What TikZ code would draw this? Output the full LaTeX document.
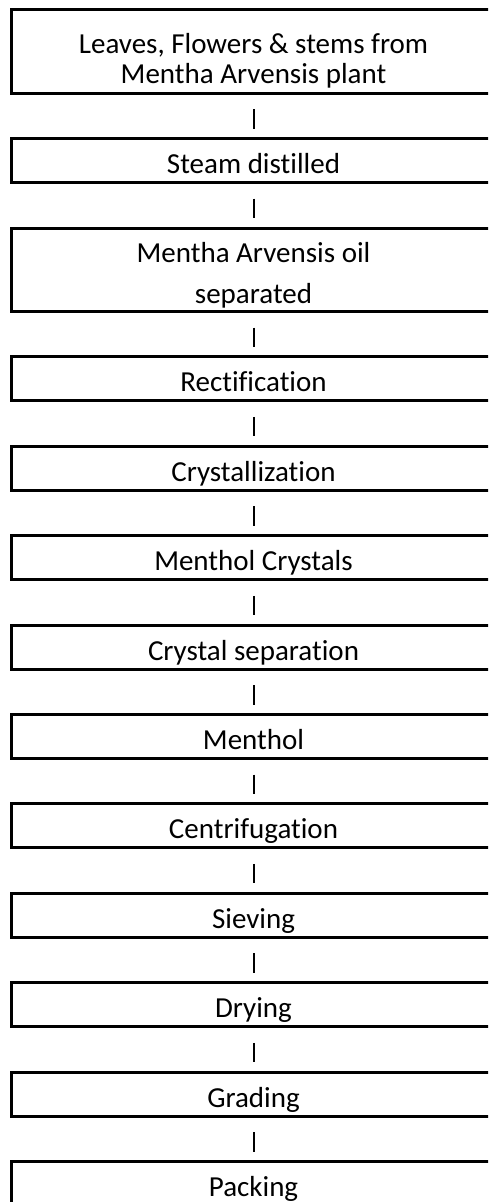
\documentclass[tikz,border=0pt]{standalone}
\usepackage{fontspec}
\setmainfont{Carlito}[Ligatures=CommonOff]
\usetikzlibrary{positioning}

\begin{document}
\begin{tikzpicture}[
    stage/.style={draw, line width=3pt, minimum width=484pt, minimum height=44pt,
      inner sep=0pt, outer sep=0pt, align=center, font=\fontsize{29pt}{30pt}\selectfont},
    one/.style={stage, text height=26pt, text depth=0pt},
    two/.style={stage, minimum height=83.5pt},
    link/.style={line width=2pt, shorten <=16pt, shorten >=10pt},
    node distance=45.4pt]
    \clip (0,0) rectangle (488pt,-1202pt);

    \node[two] (plant) at (253.5pt,-51.5pt) {\rule{0pt}{38.5pt}Leaves, Flowers \& stems from\\Mentha Arvensis plant};
    \node[one, below=of plant] (steam) {Steam distilled};
    \node[two, below=of steam] (oil) {\rule{0pt}{31.5pt}Mentha Arvensis oil\\[10.6pt]separated};
    \node[one, below=of oil] (rectif) {Rectification};
    \node[one, below=of rectif] (cryst) {Crystallization};
    \node[one, below=of cryst] (crystals) {Menthol Crystals};
    \node[one, below=of crystals] (csep) {Crystal separation};
    \node[one, below=of csep] (menthol) {Menthol};
    \node[one, below=of menthol] (centri) {Centrifugation};
    \node[one, below=of centri] (sieve) {Sieving};
    \node[one, below=of sieve] (dry) {Drying};
    \node[one, below=of dry] (grade) {Grading};
    \node[one, below=of grade] (pack) {Packing};

    \foreach \a/\b in {plant/steam, steam/oil, oil/rectif, rectif/cryst, cryst/crystals,
      crystals/csep, csep/menthol, menthol/centri, centri/sieve, sieve/dry, dry/grade, grade/pack}
      \draw[link] (\a) -- (\b);
\end{tikzpicture}
\end{document}
